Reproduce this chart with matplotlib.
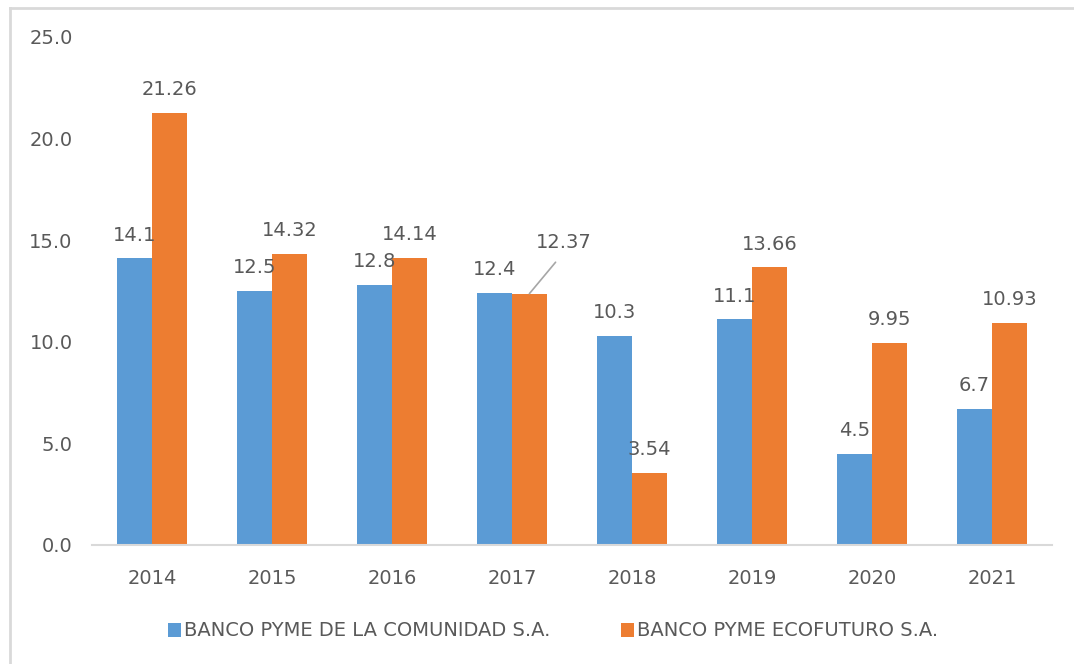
import matplotlib
matplotlib.use("Agg")
import matplotlib.pyplot as plt
from matplotlib.lines import Line2D
import numpy as np

years = ["2014", "2015", "2016", "2017", "2018", "2019", "2020", "2021"]
comunidad = [14.1, 12.5, 12.8, 12.4, 10.3, 11.1, 4.5, 6.7]
ecofuturo = [21.26, 14.32, 14.14, 12.37, 3.54, 13.66, 9.95, 10.93]
comunidad_labels = ["14.1", "12.5", "12.8", "12.4", "10.3", "11.1", "4.5", "6.7"]
ecofuturo_labels = ["21.26", "14.32", "14.14", "12.37", "3.54", "13.66", "9.95", "10.93"]
series_names = ["BANCO PYME DE LA COMUNIDAD S.A.", "BANCO PYME ECOFUTURO S.A."]
yticks = [0, 5, 10, 15, 20, 25]

BLUE = "#5B9BD5"
ORANGE = "#ED7D31"
TXT = "#595959"

plt.rcParams['font.family'] = ['DejaVu Sans']

fig = plt.figure(figsize=(10.74, 6.64), dpi=100)
ax = fig.add_axes([92/1074, 1-545/664, (1052-92)/1074, (545-37)/664])

x = np.arange(len(years))
w = 0.29
b1 = ax.bar(x - w/2, comunidad, w, color=BLUE, label=series_names[0], zorder=2)
b2 = ax.bar(x + w/2, ecofuturo, w, color=ORANGE, label=series_names[1], zorder=2)

fs = 14
for xi, v, lab in zip(x, comunidad, comunidad_labels):
    ax.annotate(lab, (xi - w/2, v), xytext=(0, 10), textcoords='offset points',
                ha='center', va='bottom', fontsize=fs, color=TXT, zorder=3)
for i, (xi, v, lab) in enumerate(zip(x, ecofuturo, ecofuturo_labels)):
    if years[i] == "2017":
        ax.annotate(lab, (xi + w/2, v), xytext=(25, 30), textcoords='offset points',
                    ha='center', va='bottom', fontsize=fs, color=TXT, zorder=3,
                    arrowprops=dict(arrowstyle='-', color='#A6A6A6', lw=1.2,
                                    relpos=(0.5, 0), shrinkA=7, shrinkB=0))
    else:
        ax.annotate(lab, (xi + w/2, v), xytext=(0, 10), textcoords='offset points',
                    ha='center', va='bottom', fontsize=fs, color=TXT, zorder=3)

ax.set_xlim(-0.5, len(years) - 0.5)
ax.set_ylim(0, 25)
ax.set_xticks(x)
ax.set_xticklabels(years)
ax.set_yticks(yticks)
ax.set_yticklabels([f"{t:.1f}" for t in yticks])
ax.tick_params(axis='both', length=0, labelsize=fs, colors=TXT)
ax.tick_params(axis='y', pad=14)
ax.tick_params(axis='x', pad=17)
for s in ['left', 'right', 'top']:
    ax.spines[s].set_visible(False)
ax.spines['bottom'].set_color('#D9D9D9')
ax.spines['bottom'].set_linewidth(1.5)

leg = fig.legend(handles=[b1, b2], loc='center', bbox_to_anchor=(0.515, 1-631/664),
                 ncol=2, frameon=False, fontsize=fs, handlelength=0.7, handleheight=0.7,
                 handletextpad=0.15, columnspacing=3.6)
for t in leg.get_texts():
    t.set_color(TXT)

# chart-area border (only left and top edges visible in the frame)
fig.add_artist(Line2D([10/1074, 10/1074], [0, 1-8/664], transform=fig.transFigure,
                      color='#D9D9D9', lw=2))
fig.add_artist(Line2D([10/1074, 1], [1-8/664, 1-8/664], transform=fig.transFigure,
                      color='#D9D9D9', lw=2))

fig.savefig("out.png", dpi=100)
